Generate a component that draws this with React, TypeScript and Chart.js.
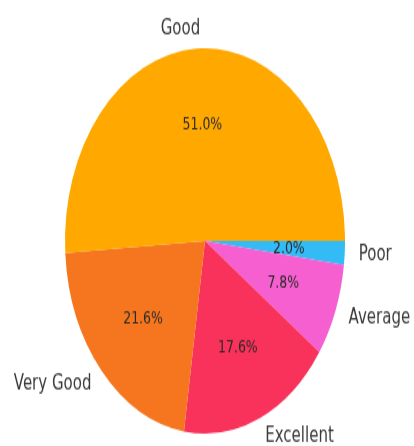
import React, { useEffect, useRef } from 'react';
import { Chart, registerables } from 'chart.js';

Chart.register(...registerables);

const categories: string[] = ['Good', 'Very Good', 'Excellent', 'Average', 'Poor'];
const shares: number[] = [51.0, 21.6, 17.6, 7.8, 2.0];
const sliceColors: string[] = ['#FFA800', '#F5761F', '#F8325A', '#F55FCF', '#33BBF5'];

const PAGE_W = 414;
const PAGE_H = 446;
const CANVAS_H = 324;

const labelPlugin = {
  id: 'mplLabels',
  afterDatasetsDraw(chart: any) {
    const ctx = chart.ctx;
    const meta = chart.getDatasetMeta(0);
    const data: number[] = chart.data.datasets[0].data;
    const total = data.reduce((a, b) => a + b, 0);
    ctx.save();
    ctx.textBaseline = 'middle';
    meta.data.forEach((arc: any, i: number) => {
      const { x, y, startAngle, endAngle, outerRadius } = arc.getProps(
        ['x', 'y', 'startAngle', 'endAngle', 'outerRadius'],
        true
      );
      const mid = (startAngle + endAngle) / 2;
      const c = Math.cos(mid);
      const s = Math.sin(mid);
      ctx.font = '12.5px "DejaVu Sans"';
      ctx.fillStyle = '#2a2a2a';
      ctx.textAlign = 'center';
      const pct = ((data[i] / total) * 100).toFixed(1) + '%';
      ctx.fillText(pct, x + c * outerRadius * 0.6, y + s * outerRadius * 0.6);
      ctx.font = '15px "DejaVu Sans"';
      ctx.fillStyle = '#3a3a3a';
      ctx.textAlign = c > 0 ? 'left' : 'right';
      ctx.fillText(chart.data.labels[i], x + c * outerRadius * 1.1, y + s * outerRadius * 1.1);
    });
    ctx.restore();
  },
};

export default function App() {
  const ref = useRef<HTMLCanvasElement | null>(null);

  useEffect(() => {
    if (!ref.current) return;
    const labels = [...categories].reverse();
    const values = [...shares].reverse();
    const colors = [...sliceColors].reverse();
    const chart = new Chart(ref.current, {
      type: 'pie',
      data: {
        labels,
        datasets: [
          {
            data: values,
            backgroundColor: colors,
            borderWidth: 0,
          },
        ],
      },
      options: {
        responsive: false,
        animation: false,
        devicePixelRatio: 1,
        rotation: 90,
        layout: { padding: { left: 65, right: 69, top: 35, bottom: 9 } },
        plugins: {
          legend: { display: false },
          tooltip: { enabled: false },
        },
      },
      plugins: [labelPlugin],
    });
    return () => chart.destroy();
  }, []);

  return (
    <div style={{ position: 'fixed', left: 0, top: 0, width: PAGE_W, height: PAGE_H, background: '#fff' }}>
      <canvas
        ref={ref}
        width={PAGE_W}
        height={CANVAS_H}
        style={{ width: PAGE_W + 'px', height: PAGE_H + 'px', display: 'block' }}
      />
    </div>
  );
}
